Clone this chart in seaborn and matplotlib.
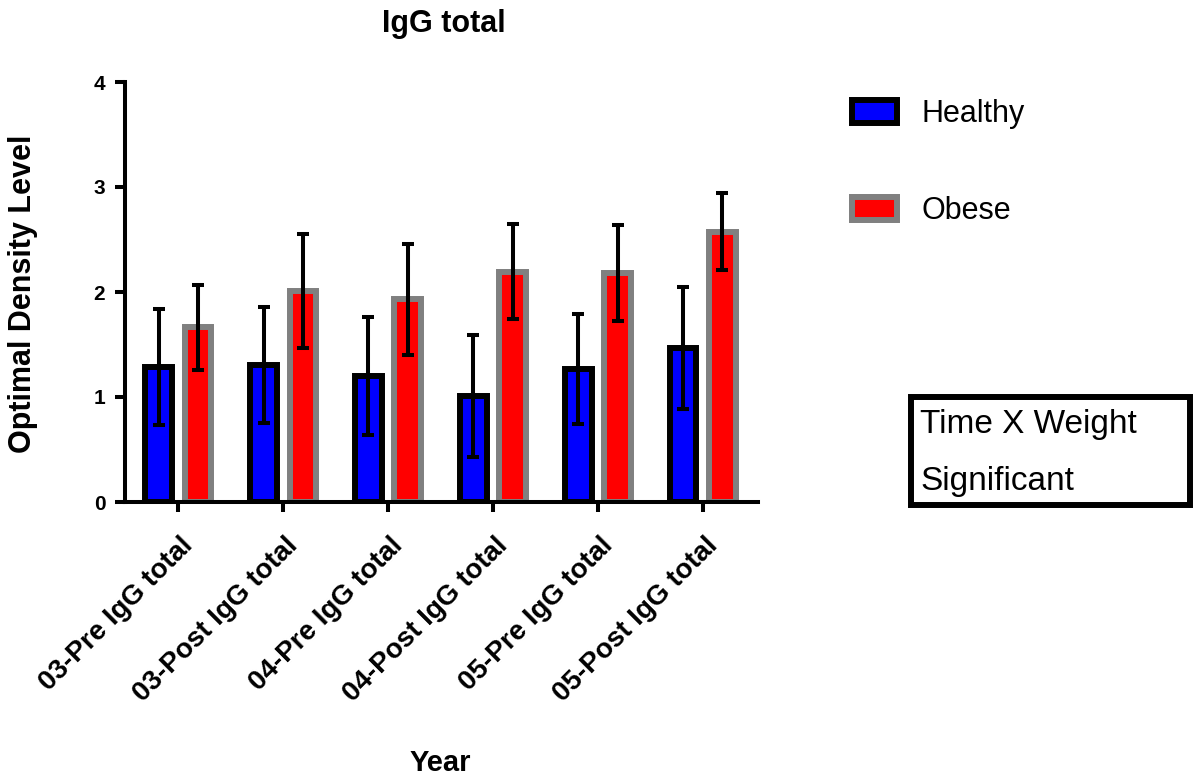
import numpy as np
import pandas as pd
import matplotlib
matplotlib.use("Agg")
import matplotlib.pyplot as plt
import seaborn as sns
from matplotlib.patches import Patch, Rectangle
from matplotlib.transforms import ScaledTranslation

categories = ["03-Pre IgG total", "03-Post IgG total", "04-Pre IgG total",
              "04-Post IgG total", "05-Pre IgG total", "05-Post IgG total"]
groups = ["Healthy", "Obese"]
healthy_mean = [1.285, 1.305, 1.20, 1.01, 1.265, 1.465]
healthy_err = [0.555, 0.555, 0.56, 0.585, 0.525, 0.58]
obese_mean = [1.665, 2.01, 1.93, 2.195, 2.18, 2.575]
obese_err = [0.405, 0.54, 0.53, 0.455, 0.46, 0.365]
y_ticks = [0, 1, 2, 3, 4]

sns.set_theme(style="white")
plt.rcParams["font.family"] = ["Liberation Sans", "DejaVu Sans"]
plt.rcParams["text.color"] = "black"
plt.rcParams["axes.labelcolor"] = "black"
plt.rcParams["xtick.color"] = "black"
plt.rcParams["ytick.color"] = "black"

df = pd.DataFrame({
    "Year": categories * 2,
    "OD": healthy_mean + obese_mean,
    "err": healthy_err + obese_err,
    "Group": ["Healthy"] * len(categories) + ["Obese"] * len(categories),
})

W, H = 1195, 776
fig = plt.figure(figsize=(W / 100, H / 100), dpi=100)
ax = fig.add_axes([125 / W, 1 - 502 / H, 633 / W, 420 / H])

fills = {"Healthy": "#0000FF", "Obese": "#FF0000"}
edges = {"Healthy": "#000000", "Obese": "#808080"}
sns.barplot(data=df, x="Year", y="OD", hue="Group", hue_order=groups,
            palette=fills, saturation=1, width=0.75, gap=0.323,
            errorbar=None, legend=False, ax=ax)

for cont, g in zip(ax.containers, groups):
    for p in cont:
        p.set_edgecolor(edges[g])
        p.set_linewidth(4.3)
    xs = [p.get_x() + p.get_width() / 2 for p in cont]
    sub = df[df["Group"] == g]
    ax.errorbar(xs, sub["OD"], yerr=sub["err"], fmt="none", ecolor="black",
                elinewidth=2.9, capsize=4.6, capthick=2.9, zorder=5)

ax.set_xlim(-0.508, 5.526)
ax.set_ylim(0, 4)
ax.set_yticks(y_ticks)
ax.set_yticklabels([str(t) for t in y_ticks], fontsize=15, fontweight="bold")
ax.set_xlabel("")
ax.set_ylabel("")
sns.despine(ax=ax)
for s in ["left", "bottom"]:
    ax.spines[s].set_linewidth(2.9)
    ax.spines[s].set_color("black")
ax.tick_params(axis="both", direction="out", length=7.2, width=2.9,
               color="black", labelcolor="black", left=True, bottom=True)
ax.tick_params(axis="y", pad=7)
ax.tick_params(axis="x", pad=15)
for lbl in ax.get_xticklabels():
    lbl.set_rotation(45)
    lbl.set_ha("right")
    lbl.set_va("top")
    lbl.set_rotation_mode("anchor")
    lbl.set_fontsize(20)
    lbl.set_fontweight("bold")
    lbl.set_transform(lbl.get_transform() + ScaledTranslation(2 / 100, 0, fig.dpi_scale_trans))

fig.text(444 / W, 1 - 32 / H, "IgG total", fontsize=22, fontweight="bold",
         ha="center", va="baseline")
fig.text(440 / W, 1 - 771 / H, "Year", fontsize=21, fontweight="bold",
         ha="center", va="baseline")
fig.text(23 / W, 1 - 294 / H, "Optimal Density Level", fontsize=22,
         fontweight="bold", rotation=90, ha="center", va="center")

handles = [Patch(facecolor=fills[g], edgecolor=edges[g], linewidth=4.3, label=g)
           for g in groups]
fig.legend(handles=handles, loc="upper left", bbox_to_anchor=(852 / W, 1 - 99 / H),
           frameon=False, fontsize=22, handlelength=1.47, handleheight=0.76,
           handletextpad=0.82, labelspacing=2.2, borderpad=0, borderaxespad=0)

fig.add_artist(Rectangle((911 / W, 1 - 505 / H), 279 / W, 108 / H,
                         transform=fig.transFigure, fill=False,
                         edgecolor="black", linewidth=4.3))
fig.text(920 / W, 1 - 433 / H, "Time X Weight", fontsize=24, ha="left", va="baseline")
fig.text(920 / W, 1 - 490 / H, "Significant", fontsize=24, ha="left", va="baseline")

fig.savefig("out.png", dpi=100)
